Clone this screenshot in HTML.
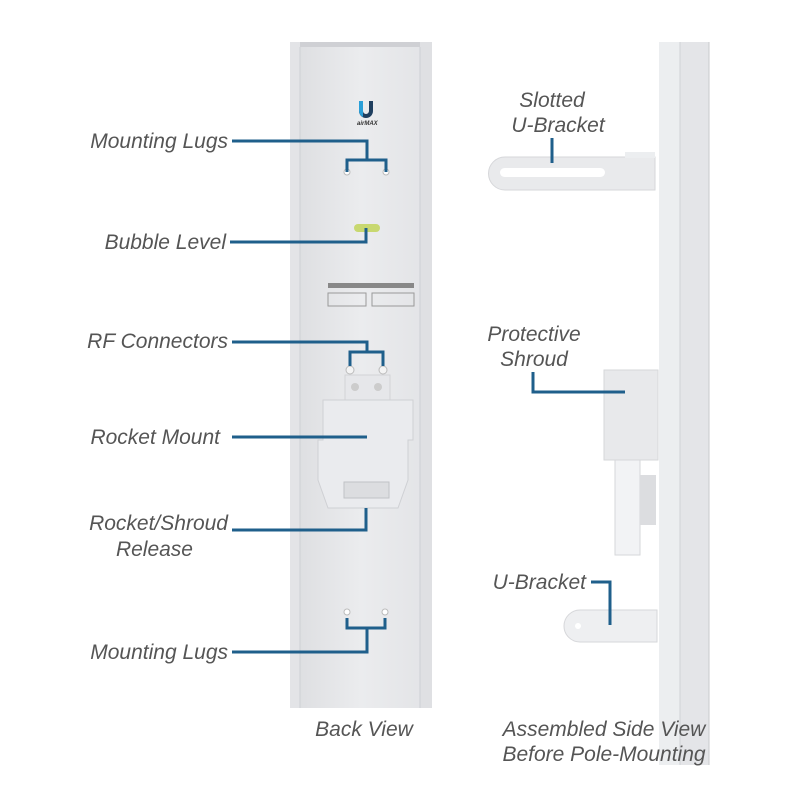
<!DOCTYPE html>
<html><head><meta charset="utf-8"><style>
body{margin:0;background:#fff;}
svg text{font-family:"Liberation Sans",sans-serif;font-style:italic;fill:#555;font-size:21px;}
</style></head><body>
<svg width="800" height="800" viewBox="0 0 800 800" xmlns="http://www.w3.org/2000/svg">
<defs>
<linearGradient id="pn" x1="0" x2="1"><stop offset="0" stop-color="#dcdde0"/><stop offset="0.5" stop-color="#ebecee"/><stop offset="1" stop-color="#e2e3e6"/></linearGradient>
</defs>
<rect x="290" y="42" width="142" height="666" fill="url(#pn)"/>
<rect x="290" y="42" width="10" height="666" fill="#e3e4e7"/>
<rect x="420" y="42" width="12" height="666" fill="#dfe0e3"/>
<rect x="300" y="42" width="120" height="5" fill="#cfd0d4"/>
<line x1="300" y1="47" x2="300" y2="708" stroke="#cdd0d4"/>
<line x1="420" y1="47" x2="420" y2="708" stroke="#cdd0d4"/>
<path d="M359 101 v10 a7 7 0 0 0 14 0 v-10 h-4 v10 a3 3 0 0 1 -6 0 v-10z" fill="#1f3f5f"/>
<path d="M359 101 v10 a7 7 0 0 0 4 6 v-16z" fill="#2a9fd8"/>
<text x="357" y="125" style="font-size:6px;fill:#333;font-weight:bold">airMAX</text>
<circle cx="347" cy="172" r="3" fill="#fff" stroke="#bbb"/><circle cx="386" cy="172" r="3" fill="#fff" stroke="#bbb"/>
<rect x="354" y="224" width="26" height="8" rx="4" fill="#c8d870"/>
<rect x="328" y="283" width="86" height="5" fill="#888"/>
<rect x="328" y="293" width="38" height="13" fill="none" stroke="#999"/>
<rect x="372" y="293" width="42" height="13" fill="none" stroke="#999"/>
<circle cx="350" cy="370" r="4" fill="#f4f4f4" stroke="#bbb"/><circle cx="383" cy="370" r="4" fill="#f4f4f4" stroke="#bbb"/>
<rect x="345" y="375" width="45" height="25" fill="#e6e7ea" stroke="#d2d3d6"/>
<circle cx="355" cy="387" r="4" fill="#ccc"/><circle cx="378" cy="387" r="4" fill="#ccc"/>
<path d="M323 400 h90 v40 h-5 v40 l-10 28 h-70 l-10 -28 v-40 h5z" fill="#eaebee" stroke="#cfd0d4"/>
<rect x="344" y="482" width="45" height="16" fill="#dcdde0" stroke="#c0c2c6"/>
<circle cx="347" cy="612" r="3" fill="#fff" stroke="#bbb"/><circle cx="385" cy="612" r="3" fill="#fff" stroke="#bbb"/>

<rect x="659" y="42" width="50" height="723" fill="#e4e5e8"/>
<rect x="659" y="42" width="21" height="723" fill="#eceef0"/>
<line x1="680" y1="42" x2="680" y2="765" stroke="#d0d2d6"/>
<line x1="709" y1="42" x2="709" y2="765" stroke="#c8cacd"/>
<path d="M505 157 h150 v33 h-150 a16.5 16.5 0 0 1 0 -33z" fill="#e9eaec" stroke="#d6d7da"/>
<rect x="500" y="168" width="105" height="9" rx="4.5" fill="#fff"/>
<rect x="625" y="152" width="30" height="6" fill="#eceef0"/>
<rect x="604" y="370" width="54" height="90" fill="#e8e9eb" stroke="#d6d7da"/>
<rect x="615" y="460" width="25" height="95" fill="#f2f3f5" stroke="#d6d7da"/>
<rect x="640" y="475" width="16" height="50" fill="#dcdde0"/>
<path d="M580 610 h77 v32 h-77 a16 16 0 0 1 0 -32z" fill="#eeeff1" stroke="#d6d7da"/>
<circle cx="578" cy="626" r="3" fill="#fff"/>

<g stroke="#1f5f8b" stroke-width="3" fill="none">
<path d="M232 141 H367 V160 M347 172 V160 H386 V172"/>
<path d="M230 242 H366 V228"/>
<path d="M232 342 H367 V352 M350 366 V352 H383 V366"/>
<path d="M232 437 H367"/>
<path d="M232 530 H366 V508"/>
<path d="M232 652 H367 V628 M347 618 V628 H385 V618"/>
<path d="M552 138 V163"/>
<path d="M533 372 V392 H625"/>
<path d="M591 582 H610 V625"/>
</g>

<g text-anchor="end">
<text x="228" y="148">Mounting Lugs</text>
<text x="226" y="249">Bubble Level</text>
<text x="228" y="348">RF Connectors</text>
<text x="220" y="444">Rocket Mount</text>
<text x="228" y="530">Rocket/Shroud</text>
<text x="193" y="556">Release</text>
<text x="228" y="659">Mounting Lugs</text>
<text x="586" y="589">U-Bracket</text>
</g>
<g text-anchor="middle">
<text x="552" y="107">Slotted</text>
<text x="558" y="132">U-Bracket</text>
<text x="534" y="341">Protective</text>
<text x="534" y="366">Shroud</text>
<text x="364" y="736">Back View</text>
<text x="604" y="736">Assembled Side View</text>
<text x="604" y="761">Before Pole-Mounting</text>
</g>
</svg>
</body></html>
